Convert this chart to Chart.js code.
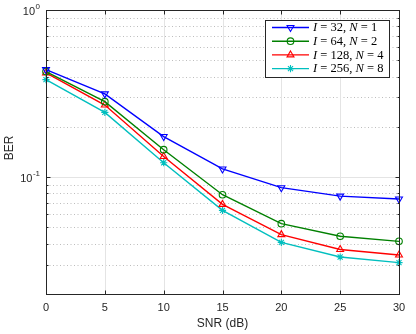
<!DOCTYPE html>
<html>
<head>
<meta charset="utf-8">
<script src="https://cdn.jsdelivr.net/npm/chart.js@4.4.1/dist/chart.umd.min.js"></script>
<style>
  html, body { margin: 0; padding: 0; background: #fff; }
  #wrap { width: 416px; height: 334px; }
</style>
</head>
<body>
<div id="wrap"><canvas id="ber-chart"></canvas></div>
<script>
// data
const snr = [0, 5, 10, 15, 20, 25, 30];
const berI32N1 = [0.44, 0.315, 0.175, 0.112, 0.0865, 0.077, 0.074];
const berI64N2 = [0.428, 0.283, 0.146, 0.0785, 0.0527, 0.0443, 0.0413];
const berI128N4 = [0.42, 0.27, 0.133, 0.0687, 0.0453, 0.0369, 0.0342];
const berI256N8 = [0.383, 0.244, 0.122, 0.0633, 0.0407, 0.0333, 0.0308];
const legendI = ['32', '64', '128', '256'];
const legendN = ['1', '2', '4', '8'];
const xTicks = [0, 5, 10, 15, 20, 25, 30];
const yMajor = [0.1, 1];
const yMajorExp = ['-1', '0'];
const yMinor = [0.02, 0.03, 0.04, 0.05, 0.06, 0.07, 0.08, 0.09, 0.2, 0.3, 0.4, 0.5, 0.6, 0.7, 0.8, 0.9];

const AXIS = '#262626';
const FONT = '"Liberation Sans", Arial, sans-serif';
const SERIF = '"Liberation Serif", "Times New Roman", serif';

function series(label, ys, color, style, rot, r) {
  return {
    label, data: snr.map((x, i) => ({ x, y: ys[i] })),
    borderColor: color, backgroundColor: 'rgba(0,0,0,0)',
    borderWidth: 1.4, pointStyle: style, pointRotation: rot, pointRadius: r,
    pointBorderWidth: 1.1, pointBorderColor: color, pointBackgroundColor: 'rgba(0,0,0,0)',
    tension: 0, clip: false
  };
}

const frame = {
  id: 'matlabFrame',
  beforeDatasetsDraw(chart) {
    const { ctx, chartArea: a, scales: { x, y } } = chart;
    ctx.save();
    ctx.lineWidth = 1;
    // minor dotted grid
    ctx.strokeStyle = 'rgba(38,38,38,0.3)';
    ctx.setLineDash([1, 2.5]);
    yMinor.forEach(v => {
      const py = Math.round(y.getPixelForValue(v)) + 0.5;
      ctx.beginPath(); ctx.moveTo(a.left, py); ctx.lineTo(a.right, py); ctx.stroke();
    });
    // major solid grid
    ctx.setLineDash([]);
    ctx.strokeStyle = '#e4e4e4';
    xTicks.slice(1, -1).forEach(v => {
      const px = Math.round(x.getPixelForValue(v)) + 0.5;
      ctx.beginPath(); ctx.moveTo(px, a.top); ctx.lineTo(px, a.bottom); ctx.stroke();
    });
    yMajor.forEach(v => {
      const py = Math.round(y.getPixelForValue(v)) + 0.5;
      ctx.beginPath(); ctx.moveTo(a.left, py); ctx.lineTo(a.right, py); ctx.stroke();
    });
    ctx.restore();
  },
  afterDatasetsDraw(chart) {
    const { ctx, chartArea: a, scales: { x, y } } = chart;
    const L = Math.round(a.left) + 0.5, R = Math.round(a.right) + 0.5;
    const T = Math.round(a.top) + 0.5, B = Math.round(a.bottom) + 0.5;
    ctx.save();
    ctx.strokeStyle = AXIS;
    ctx.lineWidth = 1;
    ctx.strokeRect(L, T, R - L, B - T);
    // ticks, inward on all four sides
    ctx.beginPath();
    xTicks.forEach(v => {
      const px = Math.round(x.getPixelForValue(v)) + 0.5;
      ctx.moveTo(px, B); ctx.lineTo(px, B - 4);
      ctx.moveTo(px, T); ctx.lineTo(px, T + 4);
    });
    yMajor.forEach(v => {
      const py = Math.round(y.getPixelForValue(v)) + 0.5;
      ctx.moveTo(L, py); ctx.lineTo(L + 4, py);
      ctx.moveTo(R, py); ctx.lineTo(R - 4, py);
    });
    yMinor.forEach(v => {
      const py = Math.round(y.getPixelForValue(v)) + 0.5;
      ctx.moveTo(L, py); ctx.lineTo(L + 2, py);
      ctx.moveTo(R, py); ctx.lineTo(R - 2, py);
    });
    ctx.stroke();

    // tick labels
    ctx.fillStyle = AXIS;
    ctx.font = '11px ' + FONT;
    ctx.textAlign = 'center';
    ctx.textBaseline = 'top';
    xTicks.forEach(v => ctx.fillText(String(v), x.getPixelForValue(v), a.bottom + 8));
    yMajor.forEach((v, i) => {
      const py = y.getPixelForValue(v);
      ctx.font = '8px ' + FONT;
      const ew = ctx.measureText(yMajorExp[i]).width;
      ctx.textAlign = 'right'; ctx.textBaseline = 'alphabetic';
      ctx.fillText(yMajorExp[i], a.left - 6, py - 1);
      ctx.font = '11px ' + FONT;
      ctx.fillText('10', a.left - 6 - ew - 0.5, py + 5);
    });
    // axis titles
    ctx.font = '12px ' + FONT;
    ctx.textAlign = 'center'; ctx.textBaseline = 'middle';
    ctx.fillText('SNR (dB)', (a.left + a.right) / 2, 324);
    ctx.translate(10, (a.top + a.bottom) / 2 - 4);
    ctx.rotate(-Math.PI / 2);
    ctx.fillText('BER', 0, 0);
    ctx.restore();

    // legend box
    ctx.save();
    const bx = 265.5, by = 20.5, bw = 124, bh = 57;
    ctx.fillStyle = '#fff';
    ctx.fillRect(bx, by, bw, bh);
    ctx.strokeStyle = '#262626';
    ctx.lineWidth = 1;
    ctx.strokeRect(bx, by, bw, bh);
    chart.data.datasets.forEach((ds, i) => {
      const ly = 27.5 + i * 13.7;
      ctx.strokeStyle = ds.borderColor;
      ctx.lineWidth = ds.borderWidth;
      ctx.beginPath(); ctx.moveTo(272, ly); ctx.lineTo(309, ly); ctx.stroke();
      ctx.lineWidth = ds.pointBorderWidth;
      ctx.fillStyle = 'rgba(0,0,0,0)';
      Chart.helpers.drawPoint(ctx, { pointStyle: ds.pointStyle, radius: ds.pointRadius, rotation: ds.pointRotation, borderWidth: 1 }, 290.5, ly);
      // text: I = .., N = .. (math-style spacing)
      ctx.fillStyle = '#000';
      ctx.textAlign = 'left'; ctx.textBaseline = 'middle';
      let tx = 313;
      const parts = [['I', true, 3.2], ['=', false, 3.2], [legendI[i] + ',', false, 3],
                     ['N', true, 3.2], ['=', false, 3.2], [legendN[i], false, 0]];
      parts.forEach(([s, it, gap]) => {
        ctx.font = (it ? 'italic ' : '') + '12.5px ' + SERIF;
        ctx.fillText(s, tx, ly + 0.5);
        tx += ctx.measureText(s).width + gap;
      });
    });
    ctx.restore();
  }
};

new Chart(document.getElementById('ber-chart'), {
  type: 'line',
  data: {
    datasets: [
      series('I = 32, N = 1', berI32N1, '#0000ff', 'triangle', 180, 4),
      series('I = 64, N = 2', berI64N2, '#008000', 'circle', 0, 3.3),
      series('I = 128, N = 4', berI128N4, '#ff0000', 'triangle', 0, 4),
      series('I = 256, N = 8', berI256N8, '#00bfbf', 'star', 0, 3.6)
    ]
  },
  options: {
    responsive: true,
    maintainAspectRatio: false,
    animation: false,
    layout: { padding: { left: 46, right: 17, top: 10, bottom: 40 } },
    plugins: { legend: { display: false }, tooltip: { enabled: false } },
    scales: {
      x: { type: 'linear', min: 0, max: 30, display: false },
      y: { type: 'logarithmic', min: 0.02, max: 1, display: false }
    }
  },
  plugins: [frame]
});
</script>
</body>
</html>
